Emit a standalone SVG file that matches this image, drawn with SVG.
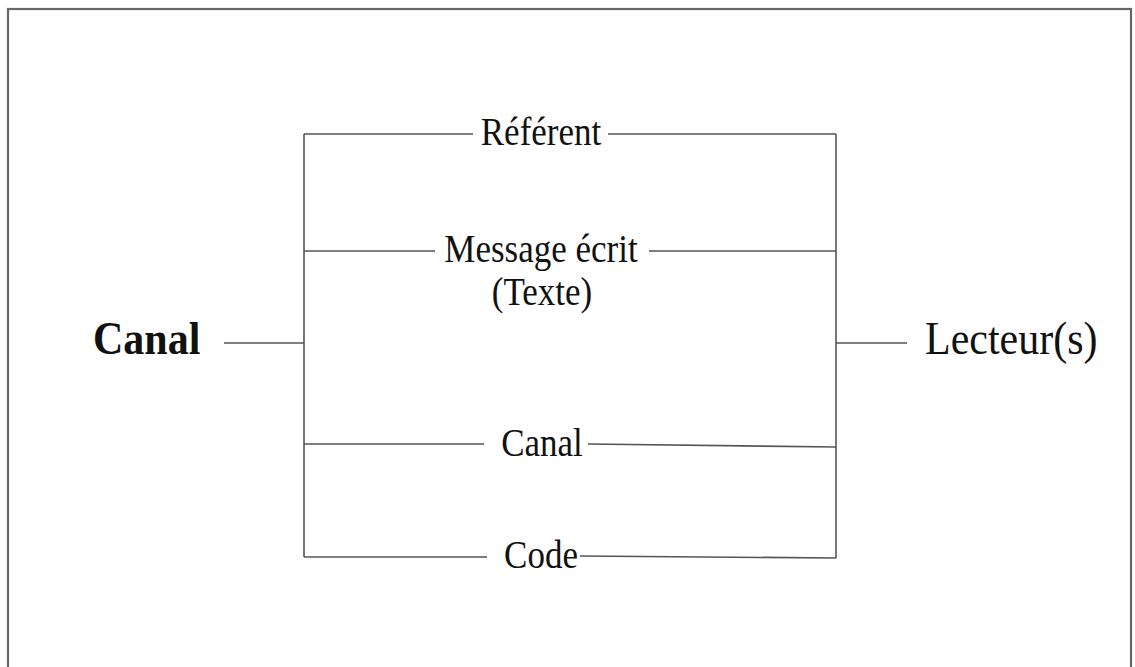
<svg xmlns="http://www.w3.org/2000/svg" width="1135" height="667" viewBox="0 0 1135 667">
<style>
.t{font-family:"Liberation Serif","Times New Roman",serif;fill:#111;}
.m{font-size:35px;text-anchor:middle;}
.b{font-size:42px;}
.c line{stroke:#555;stroke-width:1.6;fill:none;}
</style>
<rect x="0" y="0" width="1135" height="667" fill="#fff"/>
<rect id="frame" x="8" y="9" width="1123" height="680" fill="none" stroke="#666" stroke-width="2.2"/>
<g class="c" id="connectors">
<line x1="304" y1="134" x2="304" y2="557"/>
<line x1="836" y1="134" x2="836" y2="558"/>
<line x1="224" y1="343" x2="304" y2="343"/>
<line x1="836" y1="343" x2="907" y2="343"/>
<line x1="304" y1="134" x2="473" y2="134"/>
<line x1="608" y1="134" x2="836" y2="134"/>
<line x1="304" y1="251" x2="435" y2="251"/>
<line x1="649" y1="251" x2="836" y2="251"/>
<line x1="304" y1="444" x2="484" y2="444"/>
<line x1="588" y1="444" x2="836" y2="447"/>
<line x1="304" y1="557" x2="487" y2="557"/>
<line x1="580" y1="556" x2="836" y2="558"/>
</g>
<g id="canal-src" transform="translate(93,354) scale(1,1.1)"><text class="t b" x="0" y="0" font-weight="bold">Canal</text></g>
<g id="lecteurs" transform="translate(925,354) scale(1,1.12)"><text class="t b" x="0" y="0">Lecteur(s)</text></g>
<g id="referent" transform="translate(541,145) scale(1,1.15)"><text class="t m" x="0" y="0">Référent</text></g>
<g id="message"><g transform="translate(541,262) scale(1,1.15)"><text class="t m" x="0" y="0">Message écrit</text></g><g transform="translate(542,305) scale(1,1.15)"><text class="t m" x="0" y="0">(Texte)</text></g></g>
<g id="canal" transform="translate(542,456) scale(1,1.15)"><text class="t m" x="0" y="0">Canal</text></g>
<g id="code" transform="translate(541,568) scale(1,1.15)"><text class="t m" x="0" y="0">Code</text></g>
</svg>
